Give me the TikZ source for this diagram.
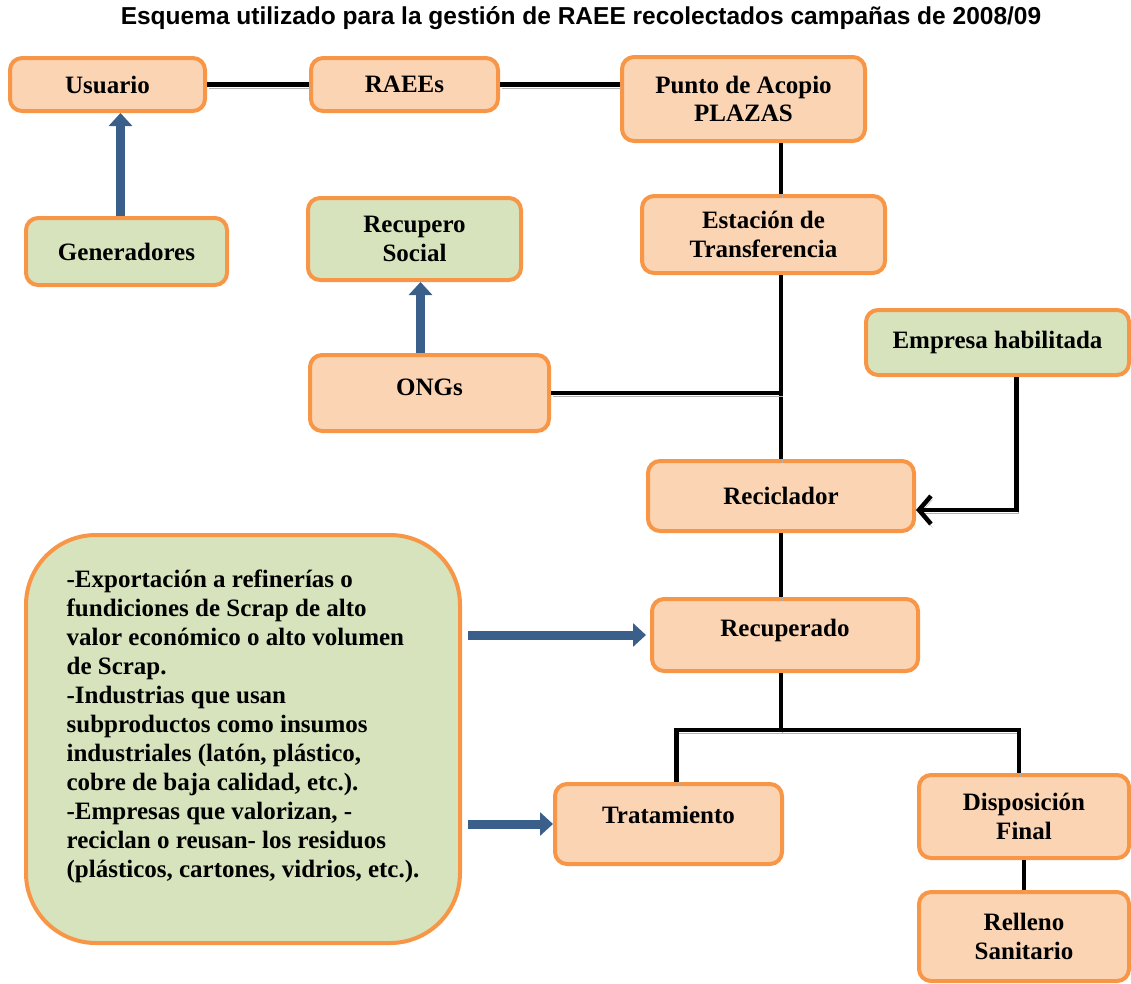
\documentclass[tikz,border=0pt]{standalone}
\usepackage{fontspec}
\setmainfont{Liberation Serif}
\newfontfamily\titlefont{Liberation Sans}
\usetikzlibrary{arrows.meta,positioning,calc}
\definecolor{peach}{HTML}{FBD4B4}
\definecolor{leaf}{HTML}{D7E3BC}
\definecolor{boxorange}{HTML}{F79646}
\definecolor{arrowblue}{HTML}{3A5F8B}
\tikzset{
  box/.style={draw=boxorange, line width=4pt, rounded corners=12pt, align=center,
    inner sep=2pt, font=\fontsize{25}{28.5}\selectfont\bfseries},
  peachbox/.style={box, fill=peach},
  greenbox/.style={box, fill=leaf},
  link/.style={line width=4.5pt, preaction={draw=gray!60, transform canvas={shift={(1.5pt,-3.5pt)}}}},
  bluearrow/.style={draw=arrowblue, line width=9pt, -{Triangle[length=13pt,width=23pt]}}
}
\begin{document}
\begin{tikzpicture}[x=1pt,y=-1pt]
\useasboundingbox (0,0) rectangle (1131,983);
\node[font=\titlefont\fontsize{24.5}{28}\selectfont\bfseries] (title) at (581,18)
  {Esquema utilizado para la gestión de RAEE recolectados campañas de 2008/09};
% upper row
\node[peachbox, minimum width=195, minimum height=53] (usuario) at (107.5,84.5) {Usuario};
\node[peachbox, minimum width=187, minimum height=53] (raees) at (404.5,84.5) {RAEEs};
\node[peachbox, minimum width=243, minimum height=84] (acopio) at (743.5,99) {Punto de Acopio\\PLAZAS};
\node[greenbox, minimum width=201, minimum height=67] (generadores) at (126.5,251.5) {Generadores};
\node[greenbox, minimum width=213, minimum height=82] (recupero) at (414.5,239) {Recupero\\Social};
\node[peachbox, minimum width=243, minimum height=77] (estacion) at (763.5,234.5) {Estación de\\Transferencia};
\node[greenbox, minimum width=263, minimum height=65] (empresa) at (997.5,342.5) {Empresa habilitada};
\node[peachbox, minimum width=239, minimum height=76, text depth=12pt] (ongs) at (429.5,393) {ONGs};
\node[peachbox, minimum width=266, minimum height=70] (reciclador) at (781,496) {Reciclador};
% lower part
\node[greenbox, rounded corners=70pt, minimum width=434, minimum height=408] (scrap) at (243,739) {};
\node[font=\fontsize{25}{29}\selectfont\bfseries, align=left, anchor=north, inner sep=0pt] (scraptext)
  at ([yshift=-37pt]scrap.north)
  {-Exportación a refinerías o\\
   fundiciones de Scrap de alto\\
   valor económico o alto volumen\\
   de Scrap.\\
   -Industrias que usan\\
   subproductos como insumos\\
   industriales (latón, plástico,\\
   cobre de baja calidad, etc.).\\
   -Empresas que valorizan, -\\
   reciclan o reusan- los residuos\\
   (plásticos, cartones, vidrios, etc.).};
\node[peachbox, minimum width=266, minimum height=72, text depth=15pt] (recuperado) at (785,635) {Recuperado};
\node[peachbox, minimum width=227, minimum height=80, text depth=18pt] (tratamiento) at (668.5,824) {Tratamiento};
\node[peachbox, minimum width=210, minimum height=83] (disposicion) at (1024,816.5) {Disposición\\Final};
\node[peachbox, minimum width=210, minimum height=89] (relleno) at (1024,936.5) {Relleno\\Sanitario};
\coordinate (fork) at ($(reciclador.south |- recuperado.south)+(0,57)$);
% black links
\draw[link] (usuario.east) -- (raees.west);
\draw[link] (raees.east) -- (raees.east -| acopio.west);
\draw[link] (acopio.south -| reciclador.north) -- (estacion.north -| reciclador.north);
\draw[link] (estacion.south -| reciclador.north) -- (reciclador.north);
\draw[link] (ongs.east) -- (ongs.east -| reciclador.north);
\draw[link, -{Straight Barb[length=12pt,width=28pt]}] ([xshift=19pt]empresa.south) |- ([yshift=-14pt]reciclador.east);
\draw[link] (reciclador.south) -- (reciclador.south |- recuperado.north);
\draw[link] (reciclador.south |- recuperado.south) -- (fork);
\draw[link] ([xshift=8pt]tratamiento.north) |- (fork) -| ([xshift=-5pt]disposicion.north);
\draw[link] (disposicion.south) -- (relleno.north);
% blue arrows
\draw[bluearrow] ([xshift=-6pt]generadores.north) -- ([xshift=-6pt]generadores.north |- usuario.south);
\draw[bluearrow] ([xshift=-9pt]ongs.north) -- ([xshift=-9pt]ongs.north |- recupero.south);
\draw[bluearrow] ([xshift=6pt]scrap.east |- recuperado.west) -- ([xshift=-4pt]recuperado.west);
\draw[bluearrow] ([xshift=6pt]scrap.east |- tratamiento.west) -- (tratamiento.west);
\end{tikzpicture}
\end{document}
